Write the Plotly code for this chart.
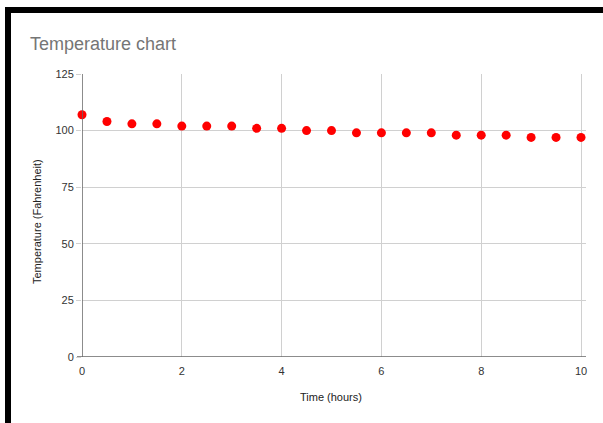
import plotly.graph_objects as go

# Readings: time in hours and temperature in degrees Fahrenheit
time_hours = [0, 0.5, 1, 1.5, 2, 2.5, 3, 3.5, 4, 4.5, 5,
              5.5, 6, 6.5, 7, 7.5, 8, 8.5, 9, 9.5, 10]
temperature_f = [107, 104, 103, 103, 102, 102, 102, 101, 101, 100, 100,
                 99, 99, 99, 99, 98, 98, 98, 97, 97, 97]

x_ticks = [0, 2, 4, 6, 8, 10]
y_ticks = [0, 25, 50, 75, 100, 125]

W, H = 603, 423
ML, MR, MT, MB = 82, 17, 74, 66
PW, PH = W - ML - MR, H - MT - MB


def px_x(px):
    return (px - ML) / PW


def px_y(py):
    return (H - MB - py) / PH


FONT = "Liberation Sans, Arial, sans-serif"

fig = go.Figure(
    go.Scatter(
        x=time_hours,
        y=temperature_f,
        mode="markers",
        marker=dict(color="#ff0000", size=9, line=dict(width=0)),
        cliponaxis=False,
        hoverinfo="x+y",
    )
)

fig.update_layout(
    width=W,
    height=H,
    margin=dict(l=ML, r=MR, t=MT, b=MB),
    paper_bgcolor="white",
    plot_bgcolor="white",
    showlegend=False,
    font=dict(family=FONT, size=11, color="#444444"),
    xaxis=dict(
        range=[0, 10.1],
        tickvals=x_ticks,
        ticktext=[str(v) for v in x_ticks],
        showgrid=True,
        gridcolor="#d0d0d0",
        gridwidth=1,
        zeroline=False,
        showline=False,
        ticks="outside",
        ticklen=4,
        tickcolor="rgba(0,0,0,0)",
        tickfont=dict(size=11, color="#333333"),
    ),
    yaxis=dict(
        range=[0, 125],
        tickvals=y_ticks,
        ticktext=[str(v) for v in y_ticks],
        showgrid=True,
        gridcolor="#d0d0d0",
        gridwidth=1,
        zeroline=False,
        showline=False,
        ticks="outside",
        ticklen=5,
        tickcolor="#d0d0d0",
        tickfont=dict(size=11, color="#333333"),
    ),
    shapes=[
        # axis lines along x = 0 and y = 0
        dict(type="line", xref="x", yref="paper", x0=0, x1=0, y0=0, y1=1,
             line=dict(color="#666666", width=1.5)),
        dict(type="line", xref="paper", yref="y", x0=px_x(77), x1=1, y0=0, y1=0,
             line=dict(color="#666666", width=1.5)),
        # dark frame around the chart card
        dict(type="rect", xref="paper", yref="paper",
             x0=px_x(5), x1=px_x(606), y0=px_y(13), y1=px_y(7),
             fillcolor="black", line=dict(width=0), layer="above"),
        dict(type="rect", xref="paper", yref="paper",
             x0=px_x(5), x1=px_x(11), y0=px_y(426), y1=px_y(7),
             fillcolor="black", line=dict(width=0), layer="above"),
    ],
    annotations=[
        dict(text="Temperature chart", xref="paper", yref="paper",
             x=px_x(28), y=px_y(44), xanchor="left", yanchor="middle",
             showarrow=False, font=dict(family=FONT, size=18, color="#757575")),
        dict(text="Temperature (Fahrenheit)", xref="paper", yref="paper",
             x=px_x(37), y=px_y(222), xanchor="center", yanchor="middle",
             textangle=-90, showarrow=False,
             font=dict(family=FONT, size=11, color="#222222")),
        dict(text="Time (hours)", xref="paper", yref="paper",
             x=px_x(331), y=px_y(397), xanchor="center", yanchor="middle",
             showarrow=False, font=dict(family=FONT, size=11, color="#222222")),
    ],
)

fig.write_html("out.html")
